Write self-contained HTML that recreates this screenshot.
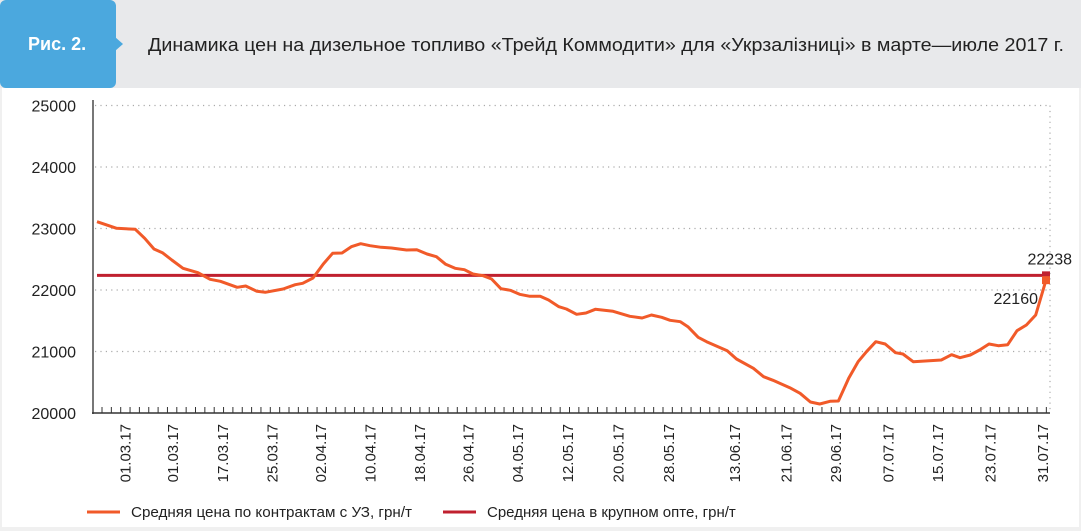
<!DOCTYPE html>
<html><head><meta charset="utf-8">
<style>
html,body{margin:0;padding:0;background:#fff;}
svg{display:block;font-family:"Liberation Sans",sans-serif;}
</style></head>
<body>
<svg id="chart" width="1081" height="531" viewBox="0 0 1081 531" xmlns="http://www.w3.org/2000/svg">
  <rect x="0" y="0" width="1081" height="531" fill="#f0f0f0"/>
  <rect x="2" y="88" width="1077" height="439" fill="#ffffff"/>
  <rect x="0" y="0" width="1081" height="88" fill="#e8e9eb"/>
  <g>
    <rect x="0" y="0" width="116" height="88" rx="6" fill="#4ba8de"/>
    <polygon points="115,37 123,44 115,51" fill="#4ba8de"/>
    <text x="28" y="50" font-size="18" font-weight="bold" fill="#ffffff">Рис. 2.</text>
  </g>
  <text x="148" y="51" font-size="18" fill="#222" textLength="916" lengthAdjust="spacingAndGlyphs">Динамика цен на дизельное топливо «Трейд Коммодити» для «Укрзалізниці» в марте—июле 2017 г.</text>
  <g id="grid"></g>
  <g id="axes"></g>
  <g id="series"></g>
  <g>
    <g>
      <line x1="87" y1="512" x2="120" y2="512" stroke="#f15a29" stroke-width="3"/>
      <text x="131" y="517" font-size="15" fill="#222" textLength="281" lengthAdjust="spacingAndGlyphs">Средняя цена по контрактам с УЗ, грн/т</text>
    </g>
    <g>
      <line x1="443" y1="512" x2="476" y2="512" stroke="#c0202f" stroke-width="3"/>
      <text x="487" y="517" font-size="15" fill="#222">Средняя цена в крупном опте, грн/т</text>
    </g>
  </g>
</svg>
<script>
const yTicks = [20000, 21000, 22000, 23000, 24000, 25000];
const xLabels = ["01.03.17","01.03.17","17.03.17","25.03.17","02.04.17","10.04.17","18.04.17","26.04.17","04.05.17","12.05.17","20.05.17","28.05.17","13.06.17","21.06.17","29.06.17","07.07.17","15.07.17","23.07.17","31.07.17"];
const xLabelPos = [3.0,8.1,13.4,18.7,23.9,29.2,34.5,39.7,45.0,50.3,55.7,61.1,68.2,73.7,79.0,84.6,89.9,95.5,101.1];
const seriesT = [0,2.1,4.1,5.1,6.1,7.0,8.0,9.2,10.8,12.1,13.2,15.0,15.9,17.1,18.0,19.9,21.2,22.0,23.1,24.2,25.2,26.2,27.2,28.2,29.2,30.4,31.5,33.1,34.2,35.3,36.3,37.3,38.3,39.3,40.2,41.3,42.2,43.2,44.2,45.2,46.3,47.4,48.3,49.4,50.2,51.3,52.3,53.3,55.2,57.0,58.3,59.3,60.4,61.3,62.4,63.2,64.3,65.2,67.4,68.4,70.2,71.3,72.3,74.1,75.2,76.3,77.3,78.4,79.3,80.4,81.4,82.3,83.3,84.3,85.4,86.2,87.3,90.3,91.4,92.3,93.4,94.4,95.4,96.4,97.4,98.4,99.4,100.4,101.5];
const contractPrice = [23110,23003,22987,22840,22667,22606,22488,22353,22281,22174,22141,22044,22065,21979,21963,22016,22086,22109,22195,22423,22597,22602,22704,22753,22720,22694,22683,22650,22655,22585,22541,22418,22353,22330,22260,22232,22179,22021,21995,21930,21898,21898,21837,21728,21691,21605,21626,21686,21654,21572,21545,21594,21556,21507,21485,21403,21231,21159,21013,20878,20727,20590,20532,20411,20320,20179,20146,20190,20195,20564,20834,20997,21159,21122,20980,20959,20834,20862,20948,20899,20943,21024,21122,21094,21111,21338,21431,21594,22160];
const wholesalePrice = [22238];
const endLabels = ["22238", "22160"];

const NS = "http://www.w3.org/2000/svg";
const X0 = 97, X1 = 1046, T0 = 0, T1 = 101.5;
const Y0 = 413, YPER = 0.0615;
function xs(t){ return X0 + (t - T0) * (X1 - X0) / (T1 - T0); }
function ys(v){ return Y0 - (v - 20000) * YPER; }
function mk(tag, attrs, parent){ const e = document.createElementNS(NS, tag); for (const k in attrs) e.setAttribute(k, attrs[k]); parent.appendChild(e); return e; }

const grid = document.getElementById('grid');
const axes = document.getElementById('axes');
const series = document.getElementById('series');

yTicks.forEach(v => {
  if (v > 20000) {
    const g = mk('line', {x1: 95, x2: 1050, y1: ys(v), y2: ys(v), stroke: '#aaa', 'stroke-width': 1.2, 'stroke-dasharray': '1.2 4.2'}, grid);
    
    
  }
  const t = mk('text', {x: 76, y: ys(v) + 6, 'font-size': 16, fill: '#222', 'text-anchor': 'end'}, axes);
  t.textContent = v;
  
  
});
const rv = mk('line', {x1: 1050, x2: 1050, y1: ys(25000), y2: Y0, stroke: '#aaa', 'stroke-width': 1.2, 'stroke-dasharray': '1.2 4.2'}, grid);



const ya = mk('line', {x1: 93, x2: 93, y1: 100, y2: Y0 + 1, stroke: '#777', 'stroke-width': 2}, axes);


const xa = mk('line', {x1: 92, x2: 1050, y1: Y0, y2: Y0, stroke: '#333', 'stroke-width': 1.5}, axes);


for (let x = 102; x <= 1050; x += 9.35) {
  mk('line', {x1: x, x2: x, y1: Y0 - 6, y2: Y0, stroke: '#333', 'stroke-width': 1}, axes);
}
xLabels.forEach((lab, i) => {
  const x = xs(xLabelPos[i]) + 5.5;
  const t = mk('text', {x: 0, y: 0, 'font-size': 15, fill: '#222', 'text-anchor': 'end', transform: `translate(${x},424) rotate(-90)`}, axes);
  t.textContent = lab;
  
  
});

const wl = mk('line', {x1: X0, x2: X1, y1: ys(wholesalePrice[0]), y2: ys(wholesalePrice[0]), stroke: '#c0202f', 'stroke-width': 3}, series);



const pts = seriesT.map((t, i) => xs(t).toFixed(1) + ',' + ys(contractPrice[i]).toFixed(1)).join(' ');
const cl = mk('polyline', {points: pts, fill: 'none', stroke: '#f15a29', 'stroke-width': 3, 'stroke-linejoin': 'round'}, series);



const lastT = seriesT[seriesT.length - 1];
const m1 = mk('rect', {x: xs(lastT) - 4, y: ys(wholesalePrice[0]) - 4, width: 8, height: 8, fill: '#c0202f'}, series);


const m2 = mk('rect', {x: xs(lastT) - 4, y: ys(contractPrice[contractPrice.length - 1]) - 4, width: 8, height: 8, fill: '#f15a29'}, series);


const l1 = mk('text', {x: xs(lastT) + 26, y: ys(wholesalePrice[0]) - 11, 'font-size': 16, fill: '#222', 'text-anchor': 'end'}, series);
l1.textContent = endLabels[0];


const l2 = mk('text', {x: xs(lastT) - 8, y: ys(contractPrice[contractPrice.length - 1]) + 24, 'font-size': 16, fill: '#222', 'text-anchor': 'end'}, series);
l2.textContent = endLabels[1];


</script>
</body></html>
